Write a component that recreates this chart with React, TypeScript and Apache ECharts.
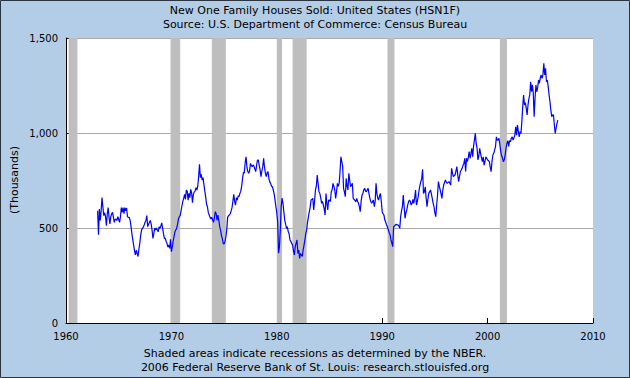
import React, { useEffect, useRef } from "react";
import * as echarts from "echarts";

const titleLine1 = "New One Family Houses Sold: United States (HSN1F)";
const titleLine2 = "Source: U.S. Department of Commerce: Census Bureau";
const footerLine1 = "Shaded areas indicate recessions as determined by the NBER.";
const footerLine2 = "2006 Federal Reserve Bank of St. Louis: research.stlouisfed.org";
const yAxisTitle = "(Thousands)";

// x-axis (years) and y-axis (thousands of units) tick settings
const xMin = 1960;
const xMax = 2010;
const xStep = 10;
const yMin = 0;
const yMax = 1500;
const yStep = 500;

// monthly series, first value = January 1963
const firstYear = 1963;
const sales1960s = [
  591, 464, 600, 540, 590, 660, 610, 565, 580, 560, 512, 575,
  607, 556, 522, 560, 575, 582, 556, 530, 545, 547, 540, 560,
  545, 530, 560, 607, 582, 607, 575, 607, 590, 605, 560, 556,
  556, 540, 510, 470, 440, 410, 380, 358, 384, 366, 350, 390,
  419, 460, 489, 498, 505, 516, 530, 540, 565, 507, 520, 530,
  540, 520, 489, 445, 470, 498, 489, 500, 489, 480, 507, 498,
  510, 527, 498, 470, 445, 445, 430, 419, 400, 410, 393, 440,
];
const sales1970s = [
  375, 400, 430, 454, 480, 489, 498, 520, 547, 560, 565, 590,
  617, 640, 656, 677, 651, 700, 694, 647, 682, 660, 703, 686,
  633, 677, 690, 694, 712, 700, 720, 770, 835, 765, 782, 752,
  765, 730, 694, 665, 625, 612, 582, 568, 556, 547, 556, 542,
  530, 556, 586, 575, 540, 568, 540, 507, 489, 460, 445, 419,
  416, 428, 454, 489, 556, 565, 568, 575, 590, 607, 640, 677,
  640, 620, 660, 647, 669, 665, 682, 694, 720, 760, 791, 790,
  844, 875, 820, 797, 788, 800, 840, 830, 823, 832, 826, 810,
  797, 830, 858, 858, 830, 805, 770, 800, 823, 867, 820, 788,
  770, 790, 797, 760, 743, 735, 720, 717, 700, 680, 647, 612,
];
const sales1980s = [
  580, 530, 368, 400, 490, 612, 657, 630, 586, 542, 520, 498,
  507, 481, 470, 437, 430, 419, 410, 380, 358, 402, 420, 437,
  366, 384, 340, 366, 358, 350, 384, 410, 437, 470, 490, 530,
  560, 586, 610, 647, 650, 656, 595, 640, 700, 720, 779, 735,
  691, 682, 660, 630, 640, 621, 600, 568, 682, 630, 595, 647,
  647, 638, 691, 700, 735, 720, 700, 656, 690, 735, 720, 735,
  797, 875, 850, 823, 709, 690, 665, 761, 720, 700, 788, 750,
  717, 725, 735, 656, 650, 645, 638, 656, 640, 630, 612, 586,
  640, 673, 682, 700, 709, 695, 691, 700, 709, 680, 656, 640,
  630, 640, 647, 612, 640, 735, 680, 656, 647, 670, 682, 638,
];
const sales1990s = [
  586, 575, 568, 542, 530, 516, 505, 490, 475, 463, 437, 420,
  402, 507, 510, 516, 520, 516, 516, 510, 498, 560, 590, 612,
  674, 612, 551, 580, 595, 620, 638, 647, 640, 621, 630, 650,
  630, 660, 700, 621, 640, 665, 700, 726, 744, 760, 809, 682,
  690, 717, 660, 612, 650, 682, 690, 700, 680, 656, 630, 612,
  580, 560, 620, 674, 744, 720, 700, 680, 656, 700, 726, 740,
  753, 740, 735, 740, 744, 735, 726, 814, 790, 770, 775, 779,
  800, 823, 780, 744, 770, 797, 805, 814, 830, 840, 867, 797,
  867, 849, 870, 902, 867, 890, 919, 875, 930, 963, 998, 945,
  920, 858, 880, 919, 893, 870, 849, 875, 831, 850, 875, 867,
];
const sales2000s = [
  858, 855, 849, 820, 796, 850, 884, 893, 910, 928, 980, 963,
  963, 972, 937, 902, 880, 867, 849, 860, 884, 920, 945, 960,
  930, 960, 954, 972, 980, 963, 975, 989, 1033, 989, 1042, 1010,
  980, 1007, 998, 1060, 1139, 1200, 1147, 1160, 1130, 1095, 1147, 1180,
  1200, 1270, 1217, 1253, 1209, 1086, 1182, 1253, 1217, 1240, 1279, 1262,
  1290, 1305, 1288, 1305, 1367, 1305, 1340, 1270, 1279, 1244, 1200, 1165,
  1120, 1086, 1095, 1095, 1042, 998, 1025, 1051, 1068,
];

// NBER recessions (start month, end month)
const recessionStarts = ["1960-04", "1969-12", "1973-11", "1980-01", "1981-07", "1990-07", "2001-03"];
const recessionEnds = ["1961-02", "1970-11", "1975-03", "1980-07", "1982-11", "1991-03", "2001-11"];

const FONT = "DejaVu Sans";

function monthToYear(s: string): number {
  const [y, m] = s.split("-").map(Number);
  return y + (m - 1) / 12;
}

export default function App() {
  const ref = useRef<HTMLDivElement>(null);

  useEffect(() => {
    if (!ref.current) return;
    const chart = echarts.init(ref.current, undefined, { renderer: "svg" });
    const all = [...sales1960s, ...sales1970s, ...sales1980s, ...sales1990s, ...sales2000s];
    const data = all.map((v, i) => [firstYear + i / 12, v]);
    const areas = recessionStarts.map((s, i) => [
      { xAxis: monthToYear(s) },
      { xAxis: monthToYear(recessionEnds[i]) },
    ]);
    const textStyle = (t: string) => ({
      text: t,
      fill: "#000",
      font: `11px "${FONT}"`,
      textAlign: "center",
      textVerticalAlign: "middle",
    });

    chart.setOption({
      animation: false,
      backgroundColor: "#B4CDE6",
      grid: {
        left: 66,
        right: 37,
        top: 38,
        bottom: 55,
        show: true,
        backgroundColor: "#FFFFFF",
        borderWidth: 0,
      },
      xAxis: {
        type: "value",
        min: xMin,
        max: xMax,
        interval: xStep,
        axisLine: { show: true, onZero: false, lineStyle: { color: "#000", width: 1 } },
        axisTick: { show: true, inside: true, length: 5, lineStyle: { color: "#000" } },
        axisLabel: {
          formatter: (v: number) => String(v),
          color: "#000",
          fontSize: 10,
          fontFamily: FONT,
          margin: 8,
        },
        splitLine: { show: false },
      },
      yAxis: {
        type: "value",
        min: yMin,
        max: yMax,
        interval: yStep,
        axisLine: { show: true, lineStyle: { color: "#000", width: 1 } },
        axisTick: { show: true, inside: true, length: 5, lineStyle: { color: "#000" } },
        axisLabel: { color: "#000", fontSize: 10, fontFamily: FONT, margin: 8 },
        splitLine: { show: true, lineStyle: { color: "#AAAAAA", width: 1 } },
      },
      series: [
        {
          type: "line",
          data,
          showSymbol: false,
          symbol: "none",
          lineStyle: { color: "#0000FF", width: 1.2 },
          markArea: {
            silent: true,
            itemStyle: { color: "#BEBEBE", opacity: 1 },
            data: areas,
          },
        },
      ],
      graphic: [
        { type: "text", x: 315, y: 10, style: textStyle(titleLine1) },
        { type: "text", x: 315, y: 24, style: textStyle(titleLine2) },
        { type: "text", x: 14, y: 180, rotation: Math.PI / 2, style: textStyle(yAxisTitle) },
        { type: "text", x: 315, y: 353, style: textStyle(footerLine1) },
        { type: "text", x: 315, y: 367, style: textStyle(footerLine2) },
        {
          type: "rect",
          shape: { x: 0.5, y: 0.5, width: 629, height: 377 },
          style: { fill: "none", stroke: "#2A3440", lineWidth: 1 },
          silent: true,
        },
      ],
    });
    return () => chart.dispose();
  }, []);

  return (
    <div
      ref={ref}
      style={{ position: "fixed", left: 0, top: 0, width: 630, height: 378 }}
    />
  );
}
